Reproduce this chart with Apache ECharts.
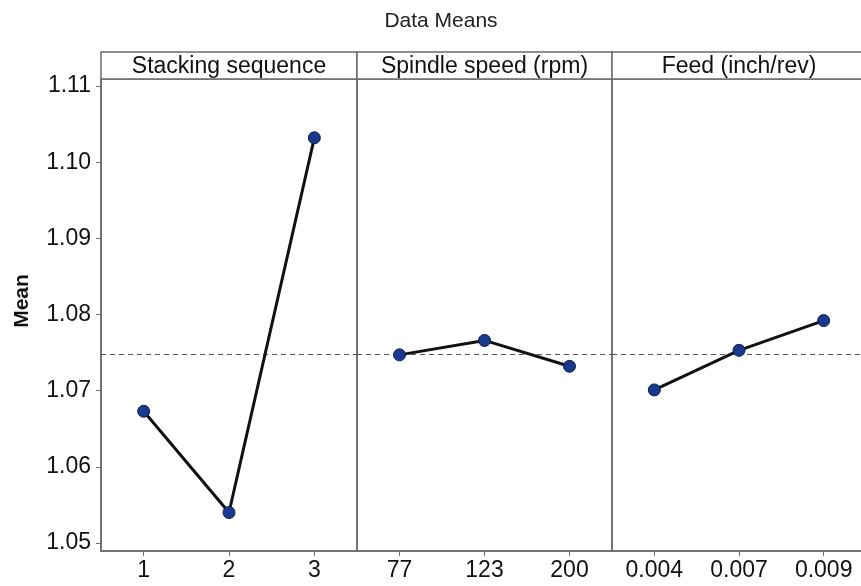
<!DOCTYPE html>
<html>
<head>
<meta charset="utf-8">
<script src="https://cdn.jsdelivr.net/npm/echarts@6/dist/echarts.min.js"></script>
<style>
  html, body { margin: 0; padding: 0; background: #fff; }
  #main { width: 861px; height: 586px; }
</style>
</head>
<body>
<div id="main"></div>
<script>
// data
var panelTitles = ['Stacking sequence', 'Spindle speed (rpm)', 'Feed (inch/rev)'];
var stackingLevels = ['1', '2', '3'];
var stackingMeans = [1.0673, 1.0540, 1.1032];
var spindleLevels = ['77', '123', '200'];
var spindleMeans = [1.0747, 1.0766, 1.0732];
var feedLevels = ['0.004', '0.007', '0.009'];
var feedMeans = [1.0701, 1.0753, 1.0792];
var yTicks = [1.05, 1.06, 1.07, 1.08, 1.09, 1.10, 1.11];
var grandMean = 1.0748;

var levels = [stackingLevels, spindleLevels, feedLevels];
var means = [stackingMeans, spindleMeans, feedMeans];

// layout (last panel runs past the right edge, as in the source image)
var panelLeft = [101, 357, 612];
var panelWidth = [256, 255, 254];
var plotTop = 79, plotBottom = 551, stripTop = 52;
var yMin = 1.04895, yMax = 1.11092;
var frameColor = '#6b6b6b';
var font = 'Liberation Sans, Arial, sans-serif';

var chart = echarts.init(document.getElementById('main'));

var grids = [], xAxes = [], yAxes = [], series = [], graphics = [];
for (var i = 0; i < 3; i++) {
    grids.push({
        left: panelLeft[i], width: panelWidth[i], top: plotTop, height: plotBottom - plotTop,
        outerBoundsMode: 'none', containLabel: false,
        show: true, borderColor: frameColor, borderWidth: 1.5, backgroundColor: 'transparent'
    });
    xAxes.push({
        type: 'category', gridIndex: i, data: levels[i], boundaryGap: true,
        axisLine: {show: true, lineStyle: {color: frameColor, width: 1.5}},
        axisTick: {show: true, alignWithLabel: true, length: 5, lineStyle: {color: frameColor}},
        axisLabel: {color: '#111', fontSize: 23, fontFamily: font, margin: 8},
        splitLine: {show: false}
    });
    yAxes.push({
        type: 'value', gridIndex: i, min: yMin, max: yMax, show: i === 0,
        axisLine: {show: true, lineStyle: {color: frameColor, width: 1.5}},
        axisTick: {show: true, length: 5, customValues: yTicks, lineStyle: {color: frameColor}},
        axisLabel: {
            color: '#111', fontSize: 23, fontFamily: font, margin: 10, customValues: yTicks,
            formatter: function (v) { return v.toFixed(2); }
        },
        splitLine: {show: false}
    });
    series.push({
        type: 'line', xAxisIndex: i, yAxisIndex: i, data: means[i],
        symbol: 'circle', symbolSize: 12,
        lineStyle: {color: '#111', width: 3},
        itemStyle: {color: '#19398c', borderColor: '#0a1b55', borderWidth: 1},
        z: 5,
        markLine: {
            silent: true, symbol: 'none', label: {show: false}, precision: 5,
            lineStyle: {color: '#555', type: [5, 4], width: 1},
            data: [{yAxis: grandMean}]
        }
    });
    graphics.push({
        type: 'rect',
        shape: {x: panelLeft[i], y: stripTop, width: panelWidth[i], height: plotTop - stripTop},
        style: {fill: '#fff', stroke: frameColor, lineWidth: 1.5}
    });
    graphics.push({
        type: 'text', x: panelLeft[i] + panelWidth[i] / 2, y: (stripTop + plotTop) / 2 + 1,
        style: {text: panelTitles[i], fill: '#111', font: '23px ' + font, textAlign: 'center', textVerticalAlign: 'middle'}
    });
}

graphics.push({
    type: 'text', x: 441, y: 21,
    style: {text: 'Data Means', fill: '#222', font: '21px ' + font, textAlign: 'center', textVerticalAlign: 'middle'}
});
graphics.push({
    type: 'text', x: 22, y: 301, rotation: Math.PI / 2,
    style: {text: 'Mean', fill: '#111', font: 'bold 21px ' + font, textAlign: 'center', textVerticalAlign: 'middle'}
});

chart.setOption({
    animation: false,
    grid: grids,
    xAxis: xAxes,
    yAxis: yAxes,
    series: series,
    graphic: graphics
});
</script>
</body>
</html>
